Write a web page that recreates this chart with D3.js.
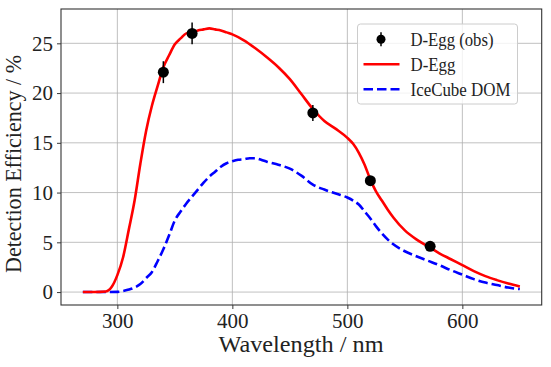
<!DOCTYPE html>
<html>
<head>
<meta charset="utf-8">
<script src="https://cdn.jsdelivr.net/npm/d3@7"></script>
<style>
  body { margin: 0; background: #fff; }
  svg { display: block; font-family: "Liberation Serif", "DejaVu Serif", serif; }
</style>
</head>
<body>
<div id="chart"></div>
<script>
// D-Egg simulated efficiency (wavelength nm, efficiency %)
const degWl = [270, 280, 290, 295, 300, 305, 310, 315, 320, 325, 330, 335, 340, 345, 350, 355, 360, 365, 370, 375, 380, 385, 390, 395, 400, 410, 420, 430, 440, 450, 460, 470, 480, 490, 500, 505, 510, 515, 520, 525, 530, 535, 540, 550, 560, 570, 580, 590, 600, 610, 620, 630, 640, 650];
const degEff = [0, 0, 0.05, 0.5, 1.7, 3.5, 6.3, 9.2, 12.9, 16.2, 18.7, 20.7, 22.6, 23.8, 24.9, 25.5, 26.0, 26.1, 26.3, 26.4, 26.5, 26.4, 26.3, 26.1, 25.9, 25.3, 24.5, 23.6, 22.6, 21.4, 19.9, 18.4, 17.2, 16.4, 15.5, 14.9, 14.0, 12.8, 11.3, 10.1, 9.2, 8.3, 7.5, 6.2, 5.3, 4.6, 3.9, 3.3, 2.7, 2.1, 1.6, 1.2, 0.85, 0.55];

// IceCube DOM efficiency
const domWl = [270, 280, 290, 300, 305, 310, 315, 320, 325, 330, 335, 340, 345, 350, 355, 360, 365, 370, 375, 380, 385, 390, 395, 400, 405, 410, 415, 420, 425, 430, 440, 450, 460, 470, 480, 490, 500, 505, 510, 515, 520, 525, 530, 535, 540, 550, 560, 570, 580, 590, 600, 610, 620, 630, 640, 650];
const domEff = [0, 0, 0, 0.02, 0.1, 0.25, 0.45, 0.8, 1.4, 2.0, 3.1, 4.3, 5.7, 7.2, 8.1, 8.9, 9.6, 10.3, 11.0, 11.6, 12.1, 12.6, 12.95, 13.15, 13.3, 13.35, 13.45, 13.45, 13.3, 13.1, 12.8, 12.4, 11.7, 10.8, 10.3, 9.9, 9.5, 9.2, 8.8, 8.1, 7.4, 6.6, 5.9, 5.3, 4.8, 4.1, 3.6, 3.15, 2.7, 2.2, 1.75, 1.3, 0.95, 0.7, 0.45, 0.3];

// measured points
const obsWl = [340, 365, 470, 520, 572];
const obsEff = [22.1, 26.0, 18.0, 11.2, 4.6];
const obsErr = [1.1, 1.1, 0.8, 0.4, 0.3];

const xTicks = [300, 400, 500, 600];
const yTicks = [0, 5, 10, 15, 20, 25];

const W = 551, H = 367;
const margin = { top: 9, right: 9.3, bottom: 62, left: 61 };
const width = W - margin.left - margin.right;
const height = H - margin.top - margin.bottom;

const svg = d3.select("#chart").append("svg")
    .attr("width", W)
    .attr("height", H);

const g = svg.append("g")
    .attr("transform", `translate(${margin.left},${margin.top})`);

const x = d3.scaleLinear().domain([251, 669]).range([0, width]);
const y = d3.scaleLinear().domain([-1.3, 28.45]).range([height, 0]);

// grid
g.append("g").selectAll("line").data(xTicks).enter().append("line")
    .attr("x1", d => x(d)).attr("x2", d => x(d))
    .attr("y1", 0).attr("y2", height)
    .attr("stroke", "#b0b0b0").attr("stroke-width", 0.8);
g.append("g").selectAll("line").data(yTicks).enter().append("line")
    .attr("y1", d => y(d)).attr("y2", d => y(d))
    .attr("x1", 0).attr("x2", width)
    .attr("stroke", "#b0b0b0").attr("stroke-width", 0.8);

// axes
const xAxis = g.append("g")
    .attr("transform", `translate(0,${height})`)
    .call(d3.axisBottom(x).tickValues(xTicks).tickSize(4).tickPadding(4).tickSizeOuter(0));
const yAxis = g.append("g")
    .call(d3.axisLeft(y).tickValues(yTicks).tickSize(4).tickPadding(4).tickSizeOuter(0));

[xAxis, yAxis].forEach(a => {
    a.select(".domain").remove();
    a.selectAll(".tick line").attr("stroke", "#222").attr("stroke-width", 0.9);
    a.selectAll(".tick text")
        .attr("fill", "#222")
        .style("font-family", "'Liberation Serif', serif")
        .style("font-size", "21px");
});

// curves
const line = d3.line()
    .x(d => x(d[0]))
    .y(d => y(d[1]))
    .curve(d3.curveMonotoneX);

g.append("path")
    .datum(domWl.map((w, i) => [w, domEff[i]]))
    .attr("fill", "none")
    .attr("stroke", "#0000ff")
    .attr("stroke-width", 2.6)
    .attr("stroke-dasharray", "9.5,4")
    .attr("d", line);

g.append("path")
    .datum(degWl.map((w, i) => [w, degEff[i]]))
    .attr("fill", "none")
    .attr("stroke", "#ff0000")
    .attr("stroke-width", 2.6)
    .attr("stroke-linejoin", "round")
    .attr("d", line);

// observations
const obs = obsWl.map((w, i) => ({ w: w, e: obsEff[i], err: obsErr[i] }));
g.append("g").selectAll("line").data(obs).enter().append("line")
    .attr("x1", d => x(d.w)).attr("x2", d => x(d.w))
    .attr("y1", d => y(d.e - d.err)).attr("y2", d => y(d.e + d.err))
    .attr("stroke", "#000").attr("stroke-width", 1.5);
g.append("g").selectAll("circle").data(obs).enter().append("circle")
    .attr("cx", d => x(d.w)).attr("cy", d => y(d.e))
    .attr("r", 5.5)
    .attr("fill", "#000");

// frame
g.append("rect")
    .attr("width", width).attr("height", height)
    .attr("fill", "none")
    .attr("stroke", "#333")
    .attr("stroke-width", 1.1);

// axis labels
svg.append("text")
    .attr("x", 301).attr("y", 352)
    .attr("text-anchor", "middle")
    .attr("textLength", 165).attr("lengthAdjust", "spacingAndGlyphs")
    .style("font-size", "23px")
    .attr("fill", "#222")
    .text("Wavelength / nm");

svg.append("text")
    .attr("transform", "translate(20.5,164) rotate(-90)")
    .attr("text-anchor", "middle")
    .attr("textLength", 218).attr("lengthAdjust", "spacingAndGlyphs")
    .style("font-size", "23px")
    .attr("fill", "#222")
    .text("Detection Efficiency / %");

// legend
const legend = svg.append("g").attr("transform", "translate(357.5,24)");
legend.append("rect")
    .attr("width", 160).attr("height", 80)
    .attr("rx", 3)
    .attr("fill", "#fff").attr("fill-opacity", 0.8)
    .attr("stroke", "#cccccc").attr("stroke-width", 1);

const items = [
    { label: "D-Egg (obs)", type: "obs", len: 83 },
    { label: "D-Egg", type: "red", len: 45 },
    { label: "IceCube DOM", type: "blue", len: 100 }
];
items.forEach((it, i) => {
    const cy = 15.3 + i * 25;
    if (it.type === "obs") {
        legend.append("line")
            .attr("x1", 23.5).attr("x2", 23.5)
            .attr("y1", cy - 7).attr("y2", cy + 7)
            .attr("stroke", "#000").attr("stroke-width", 1.5);
        legend.append("circle").attr("cx", 23.5).attr("cy", cy).attr("r", 4.5).attr("fill", "#000");
    } else {
        legend.append("line")
            .attr("x1", 6).attr("x2", 42)
            .attr("y1", cy).attr("y2", cy)
            .attr("stroke", it.type === "red" ? "#ff0000" : "#0000ff")
            .attr("stroke-width", 2.6)
            .attr("stroke-dasharray", it.type === "blue" ? "9.5,4" : null);
    }
    legend.append("text")
        .attr("x", 53).attr("y", cy + 6.5)
        .attr("textLength", it.len).attr("lengthAdjust", "spacingAndGlyphs")
        .style("font-size", "18px")
        .attr("fill", "#222")
        .text(it.label);
});
</script>
</body>
</html>
